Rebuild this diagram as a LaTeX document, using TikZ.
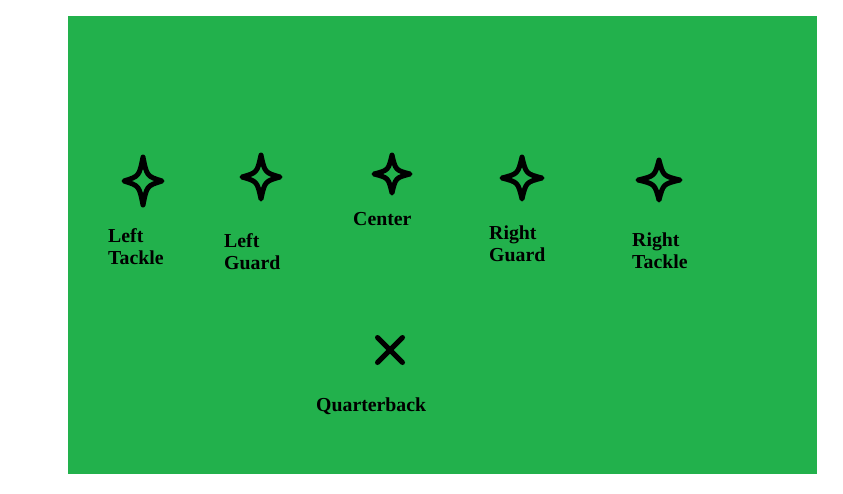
\documentclass[tikz,border=0pt]{standalone}
\usepackage{fontspec}
\setmainfont{Liberation Serif}
\definecolor{field}{RGB}{34,177,76}
\tikzset{
	pics/lineman/.style 2 args={code={
		\draw[star line, xscale=#1, yscale=#2] (0,-1) .. controls (0.2,-0.2) .. (1,0)
			.. controls (0.2,0.2) .. (0,1) .. controls (-0.2,0.2) .. (-1,0)
			.. controls (-0.2,-0.2) .. cycle;
	}}
}
\begin{document}
\begin{tikzpicture}[x=1pt,y=-1pt,
	star line/.style={line width=5pt, line join=round},
	pos label/.style={anchor=north west, inner sep=0pt, align=left,
		font=\fontsize{19.8}{22}\selectfont\bfseries}]
	\useasboundingbox (0,0) rectangle (843,493);
	\fill[field] (68,16) rectangle (817,474);
	
	% offensive line
	\coordinate (lt) at (143,181);
	\coordinate (lg) at (261,177);
	\coordinate (c) at (392,174);
	\coordinate (rg) at (522,178);
	\coordinate (rt) at (659,180);
	\pic at (lt) {lineman={19}{24}};
	\pic at (lg) {lineman={19}{22}};
	\pic at (c) {lineman={18}{19}};
	\pic at (rg) {lineman={20}{21}};
	\pic at (rt) {lineman={21}{20}};
	
	\node[pos label] (ltlabel) at (108,228) {Left\\Tackle};
	\node[pos label] (lglabel) at (224,233) {Left\\Guard};
	\node[pos label] (clabel) at (353,212) {Center};
	\node[pos label] (rglabel) at (489,226) {Right\\Guard};
	\node[pos label] (rtlabel) at (632,233) {Right\\Tackle};
	
	% quarterback
	\coordinate (qb) at (390,350);
	\draw[star line, line cap=round, shift={(qb)}] (-12.5,-12.5) -- (12.5,12.5)
		(-12.5,12.5) -- (12.5,-12.5);
	\node[pos label] (qblabel) at (316,398) {Quarterback};
\end{tikzpicture}
\end{document}
